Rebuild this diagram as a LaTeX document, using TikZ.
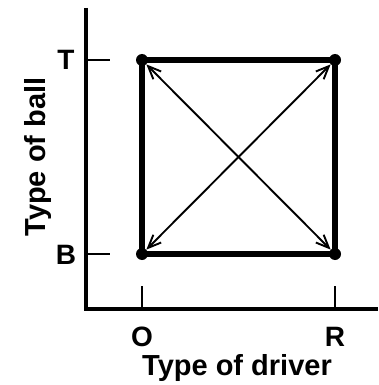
\documentclass[tikz,border=0pt]{standalone}
\usepackage{fontspec}
\setmainfont{Liberation Sans}
\usetikzlibrary{arrows.meta}
\begin{document}
\begin{tikzpicture}[x=1pt,y=-1pt,
  axis/.style={line width=3.6pt},
  tickline/.style={line width=2pt},
  edge/.style={line width=5.5pt},
  diag/.style={line width=1.9pt,{Straight Barb[length=13pt,width=11pt,line width=1.9pt]}-{Straight Barb[length=13pt,width=11pt,line width=1.9pt]}},
  dot/.style={circle,fill=black,inner sep=0pt,minimum size=12pt},
  letter/.style={font=\bfseries\fontsize{28}{28}\selectfont,inner sep=0pt},
  title/.style={font=\bfseries\fontsize{29}{29}\selectfont,inner sep=0pt,anchor=base}]
\useasboundingbox (0,0) rectangle (378,385);
% axes
\coordinate (ytop) at (86,8);
\coordinate (orig) at (86,309);
\coordinate (xend) at (378,309);
\draw[axis,line cap=butt] (ytop) -- (orig) -- (xend);
% ticks
\coordinate (tT0) at (86,60); \coordinate (tT1) at (110,60);
\coordinate (tB0) at (86,254); \coordinate (tB1) at (110,254);
\coordinate (tO0) at (142,286); \coordinate (tO1) at (142,309);
\coordinate (tR0) at (335,286); \coordinate (tR1) at (335,309);
\draw[tickline] (tT0) -- (tT1);
\draw[tickline] (tB0) -- (tB1);
\draw[tickline] (tO0) -- (tO1);
\draw[tickline] (tR0) -- (tR1);
% square
\node[dot] (OT) at (142,60) {};
\node[dot] (RT) at (335,60) {};
\node[dot] (OB) at (142,254) {};
\node[dot] (RB) at (335,254) {};
\draw[edge] (OT.center) -- (RT.center) -- (RB.center) -- (OB.center) -- cycle;
\draw[diag] (OT) -- (RB);
\draw[diag] (OB) -- (RT);
% labels
\node[letter] (lT) at (66,60) {T};
\node[letter] (lB) at (66,255) {B};
\node[letter] (lO) at (142,337) {O};
\node[letter] (lR) at (335,337) {R};
\node[title] (xl) at (237,375) {Type of driver};
\node[title,rotate=90] (yl) at (45,157) {Type of ball};
\end{tikzpicture}
\end{document}
